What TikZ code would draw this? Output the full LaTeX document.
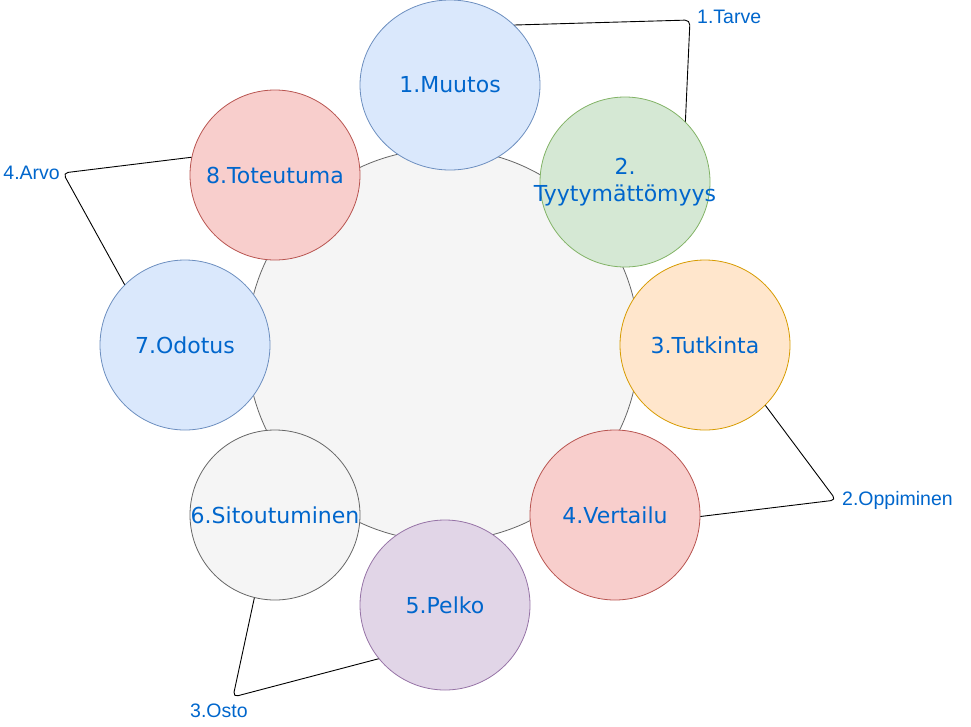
\documentclass[tikz,border=0pt]{standalone}
\usepackage{fontspec}
\usepackage{tikz}
\usetikzlibrary{shapes.geometric}
\newfontfamily\stagefont{DejaVu Sans}
\newfontfamily\labfont{Liberation Sans}
\definecolor{cytext}{HTML}{0066CC}
\definecolor{cyblue}{HTML}{DAE8FC}
\definecolor{cybluel}{HTML}{6C8EBF}
\definecolor{cygreen}{HTML}{D5E8D4}
\definecolor{cygreenl}{HTML}{82B366}
\definecolor{cyorange}{HTML}{FFE6CC}
\definecolor{cyorangel}{HTML}{D79B00}
\definecolor{cyred}{HTML}{F8CECC}
\definecolor{cyredl}{HTML}{B85450}
\definecolor{cypurple}{HTML}{E1D5E7}
\definecolor{cypurplel}{HTML}{9673A6}
\definecolor{cygray}{HTML}{F5F5F5}
\definecolor{cygrayl}{HTML}{666666}

\begin{document}
\begin{tikzpicture}[
      x=1pt, y=-1pt,
      stage/.style={circle, draw, line width=0.8pt, minimum size=170pt, inner sep=0pt,
                    align=center, text=cytext, font=\fontsize{22}{27}\selectfont\stagefont},
      bluestage/.style={stage, fill=cyblue, draw=cybluel},
      greenstage/.style={stage, fill=cygreen, draw=cygreenl},
      orangestage/.style={stage, fill=cyorange, draw=cyorangel},
      redstage/.style={stage, fill=cyred, draw=cyredl},
      purplestage/.style={stage, fill=cypurple, draw=cypurplel},
      graystage/.style={stage, fill=cygray, draw=cygrayl},
      link/.style={draw=black, line width=0.9pt, rounded corners=5pt},
      lab/.style={text=cytext, inner sep=0pt, font=\fontsize{19.5}{22}\selectfont\labfont}
    ]
    \useasboundingbox (0,0) rectangle (971,726);
    % ring behind the stages
    \node[circle, draw=cygrayl, fill=cygray, line width=0.8pt, minimum size=392pt] (ring) at (443,345) {};

    % corner points of the links
    \coordinate (c1) at (690,20);
    \coordinate (c2) at (836,500);
    \coordinate (c3) at (233,697);
    \coordinate (c4) at (63,173);

    \node[bluestage, ellipse, minimum width=180pt, minimum height=170pt] (m1) at (450,85) {1.Muutos};
    \node[greenstage]  (m2) at (625,182) {\makebox[0pt]{2.}\\\makebox[0pt]{Tyytymättömyys}};
    \node[orangestage] (m3) at (705,345) {3.Tutkinta};
    \node[redstage]    (m4) at (615,515) {4.Vertailu};
    \node[purplestage] (m5) at (445,605) {5.Pelko};
    \node[graystage]   (m6) at (275,515) {\makebox[0pt]{6.Sitoutuminen}};
    \node[bluestage]   (m7) at (185,345) {7.Odotus};
    \node[redstage]    (m8) at (275,175) {8.Toteutuma};

    \draw[link] (m1.43) -- (c1) -- (m2.45);
    \draw[link] (m3.-45) -- (c2) -- (m4.-1);
    \draw[link] (m6.-104) -- (c3) -- (m5.-141);
    \draw[link] (m8.168) -- (c4) -- (m7.135);

    \node[lab, anchor=west]  (l1) at (697,17)  {1.Tarve};
    \node[lab, anchor=west]  (l2) at (842,500) {2.Oppiminen};
    \node[lab, anchor=north west] (l3) at (190,704) {3.Osto};
    \node[lab, anchor=east]  (l4) at (60,173)  {4.Arvo};
  \end{tikzpicture}
\end{document}
